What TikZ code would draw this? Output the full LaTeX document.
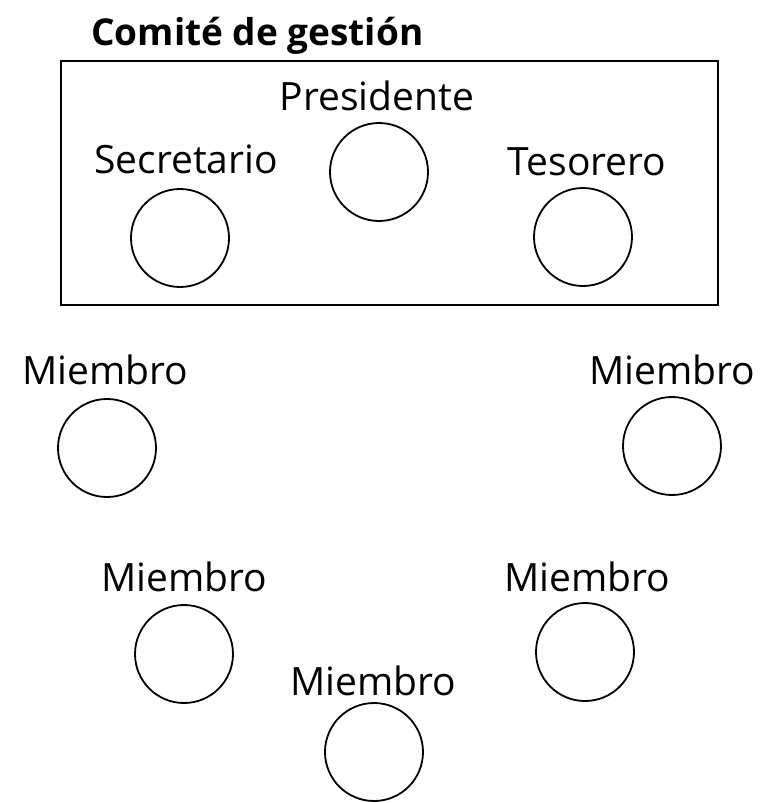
\documentclass[tikz,border=0pt]{standalone}
\usepackage{fontspec}
\setmainfont{Open Sans}
\begin{document}
\begin{tikzpicture}[x=1pt,y=-1pt,
  role/.style={circle,draw,line width=1.8pt,minimum size=98pt,inner sep=0pt},
  lbl/.style={anchor=base,inner sep=0pt,font=\fontsize{39}{44}\selectfont},
  ttl/.style={anchor=base west,inner sep=0pt,font=\fontsize{37}{42}\selectfont\bfseries}]
\useasboundingbox (0,0) rectangle (765,803);
\node[ttl] (title) at (91,45) {Comité de gestión};
\node[draw,line width=2.2pt,minimum width=657pt,minimum height=244pt,inner sep=0pt,anchor=north west] (box) at (60,60) {};
\node[lbl] (tpres) at (377,110) {Presidente};
\node[role] (pres) at (379,172) {};
\node[lbl] (tsec) at (186,173) {Secretario};
\node[role] (sec) at (180,238) {};
\node[lbl] (ttes) at (587,175) {Tesorero};
\node[role] (tes) at (583,237) {};
\node[lbl] (tm1) at (105,384) {Miembro};
\node[role] (m1) at (107,448) {};
\node[lbl] (tm2) at (672,384) {Miembro};
\node[role] (m2) at (672,446) {};
\node[lbl] (tm3) at (184,591) {Miembro};
\node[role] (m3) at (184,654) {};
\node[lbl] (tm4) at (587,591) {Miembro};
\node[role] (m4) at (585,652) {};
\node[lbl] (tm5) at (373,695) {Miembro};
\node[role] (m5) at (374,752) {};
\end{tikzpicture}
\end{document}
